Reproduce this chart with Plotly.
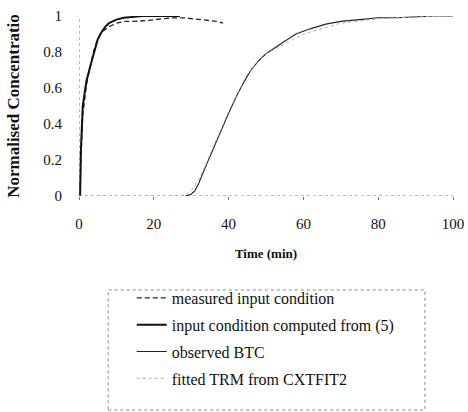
import plotly.graph_objects as go

# Measured input condition (dashed)
t_meas = [0.3, 0.5, 1, 2, 3, 4, 5, 6, 8, 10, 12, 15, 18, 20, 22, 25, 28, 30, 33, 35, 37, 38.5]
c_meas = [0, 0.2, 0.45, 0.62, 0.72, 0.81, 0.87, 0.91, 0.94, 0.96, 0.97, 0.97, 0.975, 0.98, 0.985, 0.99, 0.99, 0.985, 0.98, 0.975, 0.97, 0.96]

# Input condition computed from (5) (thick solid)
t_comp = [0.3, 0.5, 1, 1.5, 2, 3, 4, 5, 6, 7, 8, 10, 12, 14, 17, 20, 24, 27]
c_comp = [0, 0.25, 0.5, 0.58, 0.64, 0.72, 0.8, 0.87, 0.91, 0.94, 0.96, 0.98, 0.99, 0.995, 1, 1, 1, 1]

# Observed BTC (thin solid)
t_obs = [28.5, 30, 31, 32, 34, 36, 38, 40, 42, 44, 46, 48, 50, 52, 55, 58, 62, 66, 70, 75, 80, 85, 90, 95, 100]
c_obs = [0, 0.01, 0.03, 0.07, 0.17, 0.27, 0.36, 0.46, 0.55, 0.63, 0.7, 0.75, 0.79, 0.82, 0.86, 0.9, 0.93, 0.955, 0.97, 0.98, 0.99, 0.99, 0.995, 1.0, 1.0]

# Fitted TRM from CXTFIT2 (dotted)
t_fit = [0, 10, 20, 27, 29, 30, 32, 34, 36, 38, 40, 45, 50, 60, 70, 80, 90, 100]
c_fit = [0, 0, 0, 0, 0.01, 0.03, 0.09, 0.18, 0.28, 0.37, 0.47, 0.68, 0.79, 0.9, 0.96, 0.985, 0.995, 1.0]

x_ticks = [0, 20, 40, 60, 80, 100]
y_ticks = [0, 0.2, 0.4, 0.6, 0.8, 1]
y_tick_text = ["0", "0.2", "0.4", "0.6", "0.8", "1"]

FONT = "Liberation Serif"

fig = go.Figure()
fig.add_trace(go.Scatter(x=t_meas, y=c_meas, mode="lines", name="measured input condition",
                         legendgroup="a", line=dict(color="#222", width=1.3, dash="5px,3px")))
fig.add_trace(go.Scatter(x=t_comp, y=c_comp, mode="lines", name="input condition computed from (5)",
                         legendgroup="b", line=dict(color="#111", width=2)))
fig.add_trace(go.Scatter(x=t_obs, y=c_obs, mode="lines", name="observed BTC",
                         legendgroup="c", line=dict(color="#222", width=1.1)))
fig.add_trace(go.Scatter(x=t_fit, y=c_fit, mode="lines", name="fitted TRM from CXTFIT2",
                         legendgroup="d", line=dict(color="#aaa", width=1, dash="dot")))

# dotted axis lines
fig.add_shape(type="line", xref="x", yref="y", x0=0, x1=100, y0=0, y1=0,
              line=dict(color="#777", width=1, dash="dot"), layer="below")
fig.add_shape(type="line", xref="x", yref="y", x0=0, x1=0, y0=0, y1=1,
              line=dict(color="#777", width=1, dash="dot"), layer="below")
# dotted legend frame
fig.add_shape(type="rect", xref="paper", yref="paper", x0=0.078, x1=0.925, y0=-1.189, y1=-0.522,
              line=dict(color="#888", width=1, dash="dot"))

fig.update_layout(
    template="none",
    width=468, height=412,
    margin=dict(l=79, r=15, t=16, b=216, autoexpand=False),
    paper_bgcolor="white", plot_bgcolor="white",
    font=dict(family=FONT, color="#111", size=15),
    showlegend=True,
    legend=dict(x=0.141, y=-0.472, xanchor="left", yanchor="top",
                font=dict(family=FONT, size=16, color="#111"),
                tracegroupgap=3, bgcolor="rgba(0,0,0,0)", borderwidth=0),
    xaxis=dict(range=[0, 100], tickvals=x_ticks, showgrid=False, zeroline=False,
               showline=False, ticks="outside", ticklen=3, tickcolor="#777",
               ticklabelstandoff=11, tickfont=dict(size=15), automargin=False,
               title=dict(text="<b>Time (min)</b>", font=dict(size=13), standoff=17)),
    yaxis=dict(range=[0, 1], tickvals=y_ticks, ticktext=y_tick_text, showgrid=False,
               zeroline=False, showline=False, ticks="", ticklabelstandoff=16,
               tickfont=dict(size=15), automargin=False,
               title=dict(text="<b>Normalised Concentratio</b>", font=dict(size=17), standoff=19)),
)
for tr in fig.data:
    tr.cliponaxis = False

fig.write_html(
    "out.html",
    config={"displayModeBar": False},
    post_script="document.body.style.margin='0';document.documentElement.style.overflow='hidden';",
)
